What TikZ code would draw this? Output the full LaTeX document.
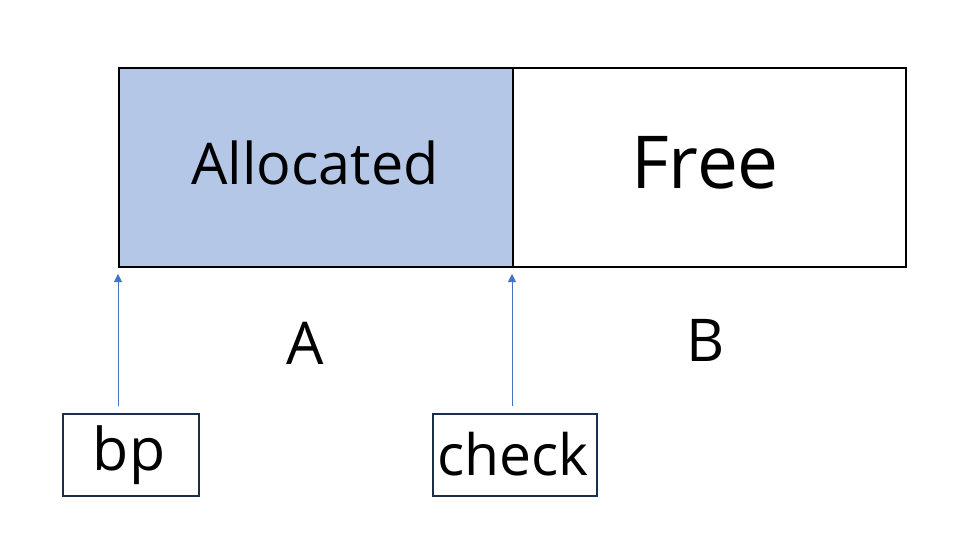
\documentclass[tikz,border=0pt]{standalone}
\usepackage{fontspec}
\setmainfont{Open Sans}
\usetikzlibrary{arrows.meta}
\definecolor{allocfill}{HTML}{B4C7E7}
\definecolor{arrowblue}{HTML}{4472C4}
\definecolor{navy}{HTML}{1B2E4D}
\begin{document}
\begin{tikzpicture}[x=1pt,y=-1pt,
  cell/.style={draw=black,line width=1.8pt},
  ptrbox/.style={draw=navy,line width=1.6pt},
  lbl/.style={inner sep=0pt,anchor=base,font=\fontsize{59}{60}\selectfont},
  ptr/.style={draw=arrowblue,line width=0.9pt,-{Triangle[width=8pt,length=8pt]}}]
\useasboundingbox (0,0) rectangle (978,559);
\fill[white] (0,0) rectangle (978,559);
% cells
\node[cell,fill=allocfill,minimum width=394pt,minimum height=199pt,inner sep=0pt,anchor=north west] (alloc) at (118,67) {};
\node[cell,minimum width=393pt,minimum height=199pt,inner sep=0pt,anchor=north west] (free) at (512,67) {};
\node[lbl,font=\fontsize{57.5}{60}\selectfont] (alloctxt) at (315,184.5) {Allocated};
\node[lbl,font=\fontsize{73}{74}\selectfont] (freetxt) at (705,188.5) {Free};
% region labels
\node[lbl] (A) at (305,364.5) {A};
\node[lbl] (B) at (705.5,361) {B};
% pointer boxes
\node[ptrbox,minimum width=136pt,minimum height=82pt,inner sep=0pt,anchor=north west] (bpbox) at (62,413) {};
\node[ptrbox,minimum width=164pt,minimum height=82pt,inner sep=0pt,anchor=north west] (checkbox) at (432,413) {};
\node[lbl] (bptxt) at (129,470) {bp};
\node[lbl,font=\fontsize{57}{58}\selectfont] (checktxt) at (513,475) {check};
% arrows
\coordinate (bptip) at (118,274);
\coordinate (checktip) at (512,274);
\draw[ptr] ([yshift=7pt]bpbox.north -| bptip) -- (bptip);
\draw[ptr] ([yshift=7pt]checkbox.north -| checktip) -- (checktip);
\end{tikzpicture}
\end{document}
